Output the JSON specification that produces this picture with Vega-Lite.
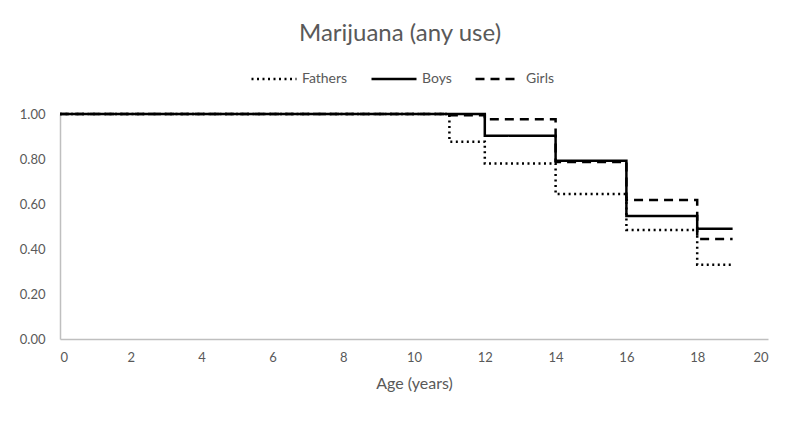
{
  "$schema": "https://vega.github.io/schema/vega-lite/v6.json",
  "width": 708,
  "height": 225,
  "autosize": {"type": "none"},
  "padding": {"left": 60, "top": 114, "right": 32, "bottom": 82},
  "background": "white",
  "config": {
    "view": {"stroke": null},
    "font": "Lato",
    "title": {"font": "Lato", "fontSize": 24, "fontWeight": "normal", "color": "#595959"}
  },
  "title": {"text": "Marijuana (any use)", "anchor": "middle", "dx": -14, "offset": 9},
  "data": {
    "values": [
      {"age": 0, "p": 1.0, "group": "Fathers"},
      {"age": 11, "p": 0.877, "group": "Fathers"},
      {"age": 12, "p": 0.78, "group": "Fathers"},
      {"age": 14, "p": 0.645, "group": "Fathers"},
      {"age": 16, "p": 0.485, "group": "Fathers"},
      {"age": 18, "p": 0.33, "group": "Fathers"},
      {"age": 19, "p": 0.33, "group": "Fathers"},
      {"age": 0, "p": 1.0, "group": "Boys"},
      {"age": 12, "p": 0.903, "group": "Boys"},
      {"age": 14, "p": 0.792, "group": "Boys"},
      {"age": 16, "p": 0.547, "group": "Boys"},
      {"age": 18, "p": 0.49, "group": "Boys"},
      {"age": 19, "p": 0.49, "group": "Boys"},
      {"age": 0, "p": 1.0, "group": "Girls"},
      {"age": 11, "p": 0.995, "group": "Girls"},
      {"age": 12, "p": 0.977, "group": "Girls"},
      {"age": 14, "p": 0.787, "group": "Girls"},
      {"age": 16, "p": 0.618, "group": "Girls"},
      {"age": 18, "p": 0.445, "group": "Girls"},
      {"age": 19, "p": 0.445, "group": "Girls"}
    ]
  },
  "mark": {"type": "line", "interpolate": "step-after", "color": "black", "strokeWidth": 2.5},
  "encoding": {
    "x": {
      "field": "age", "type": "quantitative",
      "scale": {"domain": [0, 20], "nice": false},
      "axis": {
        "title": "Age (years)", "values": [0,2,4,6,8,10,12,14,16,18,20],
        "grid": false, "ticks": false, "domainColor": "#bfbfbf", "domainWidth": 1.5,
        "labelColor": "#595959", "labelFontSize": 13, "labelPadding": 12,
        "titleColor": "#595959", "titleFontSize": 16, "titleFontWeight": "normal", "titlePadding": 11
      }
    },
    "y": {
      "field": "p", "type": "quantitative",
      "scale": {"domain": [0, 1], "nice": false},
      "axis": {
        "title": null, "values": [0, 0.2, 0.4, 0.6, 0.8, 1.0], "format": ".2f",
        "grid": false, "ticks": false, "domainColor": "#bfbfbf", "domainWidth": 1.5,
        "labelColor": "#595959", "labelFontSize": 13, "labelPadding": 15
      }
    },
    "detail": {"field": "group"},
    "strokeDash": {
      "field": "group", "type": "nominal",
      "scale": {"domain": ["Fathers", "Boys", "Girls"], "range": [[2, 3.5], [1, 0], [9, 6]]},
      "legend": {
        "title": null, "orient": "none", "direction": "horizontal",
        "legendX": 190, "legendY": -59,
        "symbolType": "stroke", "symbolSize": 2025, "symbolStrokeWidth": 2.5, "symbolStrokeColor": "black",
        "labelColor": "#595959", "labelFontSize": 14, "labelOffset": 4, "columnPadding": 18
      }
    }
  }
}
